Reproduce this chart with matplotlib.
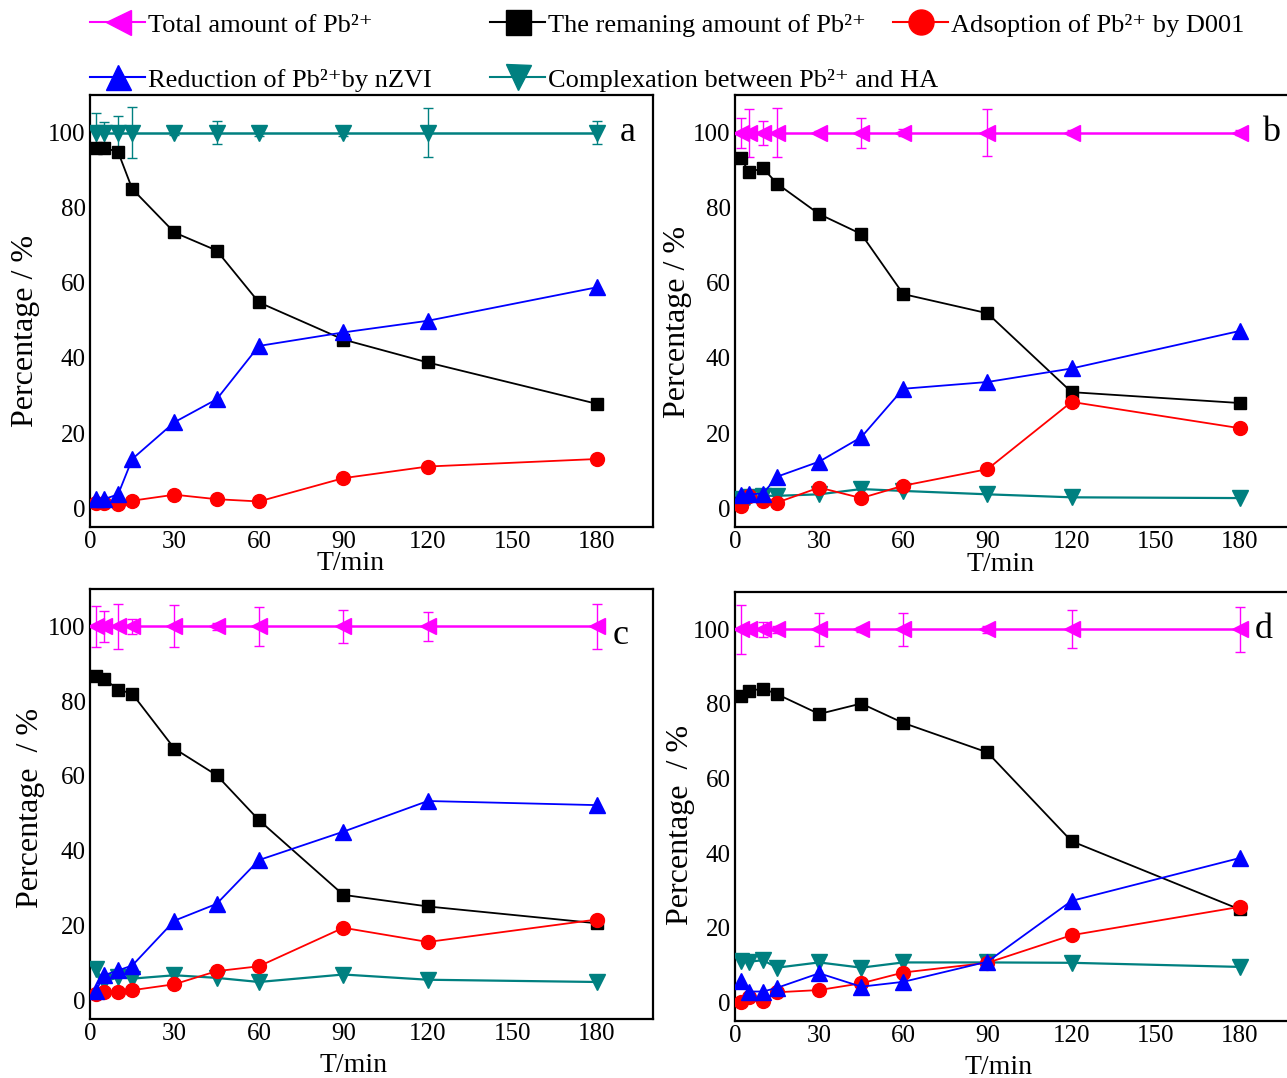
import matplotlib
matplotlib.use('Agg')
import matplotlib.pyplot as plt
from matplotlib.lines import Line2D

plt.rcParams['font.family'] = ['Liberation Serif', 'DejaVu Serif']

# sampling times (min)
t = [2, 5, 10, 15, 30, 45, 60, 90, 120, 180]

# total amount of Pb2+ (always 100 %) and its error bars per panel
total = [100, 100, 100, 100, 100, 100, 100, 100, 100, 100]
err_a = [5.3, 2.7, 4.5, 6.7, 0.7, 3.0, 1.0, 0.8, 6.6, 3.0]
err_b = [4.0, 6.4, 3.2, 6.5, 0.5, 4.0, 1.0, 6.3, 0.6, 0.6]
err_c = [5.5, 4.1, 6.0, 2.0, 5.6, 1.0, 5.3, 4.4, 3.8, 6.0]
err_d = [6.6, 1.0, 2.0, 1.0, 4.5, 0.6, 4.5, 1.0, 5.1, 6.0]

# remaining amount of Pb2+
remain_a = [96.0, 96.0, 94.8, 85.0, 73.4, 68.6, 54.8, 44.9, 38.8, 27.8]
remain_b = [93.3, 89.5, 90.5, 86.4, 78.3, 73.0, 57.0, 51.9, 30.9, 28.0]
remain_c = [86.8, 86.0, 83.1, 82.0, 67.3, 60.2, 48.2, 28.2, 25.1, 20.6]
remain_d = [82.2, 83.5, 84.1, 82.6, 77.3, 80.1, 74.9, 67.0, 43.2, 24.9]

# adsorption by D001
ads_a = [1.5, 1.3, 1.1, 2.0, 3.6, 2.4, 1.8, 8.0, 11.1, 13.1]
ads_b = [0.6, 3.3, 2.0, 1.5, 5.5, 2.7, 6.0, 10.4, 28.3, 21.3]
ads_c = [1.8, 2.2, 2.2, 2.7, 4.3, 7.8, 9.1, 19.4, 15.6, 21.6]
ads_d = [0.0, 1.5, 0.4, 2.7, 3.3, 5.1, 8.0, 10.6, 18.0, 25.6]

# reduction by nZVI
red_a = [2.4, 2.4, 3.7, 13.1, 22.9, 29.0, 43.2, 46.8, 49.9, 58.8]
red_b = [3.6, 3.7, 3.9, 8.4, 12.4, 18.9, 31.8, 33.6, 37.2, 47.2]
red_c = [2.4, 6.7, 8.0, 9.3, 21.3, 25.8, 37.5, 45.1, 53.3, 52.2]
red_d = [5.8, 2.9, 2.9, 3.9, 7.8, 4.2, 5.5, 10.9, 27.2, 38.7]

# complexation with HA (no HA in panel a)
comp_b = [2.4, 3.0, 3.3, 3.3, 3.7, 5.1, 4.6, 3.7, 2.9, 2.7]
comp_c = [8.4, 4.9, 6.2, 5.8, 6.7, 6.0, 4.9, 6.9, 5.5, 4.9]
comp_d = [11.1, 10.9, 11.3, 9.3, 10.7, 9.3, 10.7, 10.7, 10.6, 9.5]

MAG = '#ff00ff'
TEAL = '#008080'
BLUE = '#0000ff'
RED = '#ff0000'

W, H = 1287, 1078
fig = plt.figure(figsize=(W / 100, H / 100), dpi=100)


def box(x0, y0, x1, y1):
    return [x0 / W, 1 - y1 / H, (x1 - x0) / W, (y1 - y0) / H]


# name, axes box, errors, series..., ylabel text, ylabel (x, y), xlabel (x, y)
panels = [
    ('a', box(90, 95, 653, 527), err_a, remain_a, ads_a, red_a, None,
     'Percentage / %', (-0.088, 0.455), (0.462, -0.055)),
    ('b', box(735, 95, 1296, 527), err_b, remain_b, ads_b, red_b, comp_b,
     'Percentage / %', (-0.076, 0.475), (0.474, -0.058)),
    ('c', box(90, 589, 653, 1019), err_c, remain_c, ads_c, red_c, comp_c,
     'Percentage  / %', (-0.080, 0.49), (0.468, -0.078)),
    ('d', box(735, 592, 1296, 1021), err_d, remain_d, ads_d, red_d, comp_d,
     'Percentage  / %', (-0.072, 0.457), (0.470, -0.080)),
]

for name, rect, err, remain, ads, red, comp, ylab, ypos, xpos in panels:
    ax = fig.add_axes(rect)
    # panel a shows the total with the teal symbol
    tc, tm = (TEAL, 'v') if name == 'a' else (MAG, '<')
    ax.errorbar(t, total, yerr=err, color=tc, marker=tm, ms=11, lw=1.8,
                elinewidth=1, capsize=3.5, capthick=1, zorder=3)
    ax.plot(t, remain, color='black', marker='s', ms=9, lw=1.3, zorder=4)
    if comp is not None:
        ax.plot(t, comp, color=TEAL, marker='v', ms=11, lw=1.6, zorder=3)
    ax.plot(t, ads, color=RED, marker='o', ms=10, lw=1.3, zorder=4)
    ax.plot(t, red, color=BLUE, marker='^', ms=11, lw=1.3, zorder=5)

    ax.set_xlim(0, 200)
    ax.set_ylim(-5, 110)
    ax.set_xticks([0, 30, 60, 90, 120, 150, 180])
    ax.set_yticks([0, 20, 40, 60, 80, 100])
    ax.tick_params(length=0, labelsize=18, pad=3)
    for s in ax.spines.values():
        s.set_linewidth(1.6)
    ax.set_xlabel('T/min', fontsize=20)
    ax.xaxis.set_label_coords(*xpos)
    ax.set_ylabel(ylab, fontsize=23)
    ax.yaxis.set_label_coords(*ypos)
    ax.text(191 if name in 'ab' else 188.5, 100 if name != 'c' else 97.5, name,
            fontsize=26, ha='center', va='center')

pb = 'Pb²⁺'
entries = [
    (90, 25, MAG, '<', 'Total amount of ' + pb),
    (490, 25, 'black', 's', 'The remaning amount of ' + pb),
    (893, 25, RED, 'o', 'Adsoption of ' + pb + ' by D001'),
    (90, 80, BLUE, '^', 'Reduction of ' + pb + 'by nZVI'),
    (490, 80, TEAL, 'v', 'Complexation between ' + pb + ' and HA'),
]
for x, y, c, m, label in entries:
    h = Line2D([], [], color=c, marker=m, ms=18, lw=1.5)
    fig.legend(handles=[h], labels=[label], loc='center left',
               bbox_to_anchor=(x / W, 1 - y / H), frameon=False,
               fontsize=19, handlelength=2.1, handletextpad=0.1,
               borderpad=0, borderaxespad=0)

fig.savefig('out.png', dpi=100)
